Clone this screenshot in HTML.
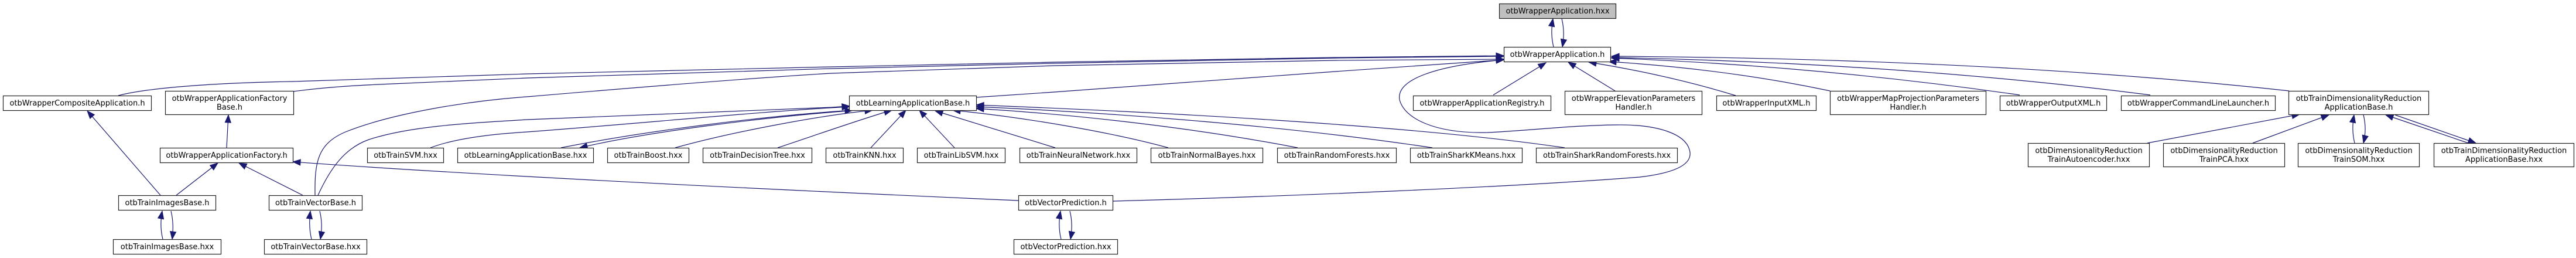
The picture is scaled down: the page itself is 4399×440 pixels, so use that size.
<!DOCTYPE html>
<html>
<head>
<meta charset="utf-8">
<style>
  html, body { margin: 0; padding: 0; background: #ffffff; }
  svg { display: block; }
  .n rect { fill: #ffffff; stroke: #222222; stroke-width: 1.2; }
  .n text { font-family: "DejaVu Sans", "Liberation Sans", sans-serif; font-size: 13px; fill: #000000; text-anchor: middle; }
  .e path { fill: none; stroke: #191970; stroke-width: 1.2; }
</style>
</head>
<body>
<svg width="4399" height="440" viewBox="0 0 4399 440" xmlns="http://www.w3.org/2000/svg">
  <defs>
    <marker id="ah" markerUnits="userSpaceOnUse" markerWidth="15" markerHeight="12" refX="13" refY="5" orient="auto" overflow="visible">
      <path d="M0,0 L13,5 L0,10 Z" fill="#191970" stroke="#191970" stroke-width="1"/>
    </marker>
  </defs>
  <rect x="0" y="0" width="4399" height="440" fill="#ffffff"/>

  <!-- EDGES -->
  <g class="e">
    <!-- WrapperApplication.h <-> .hxx cycle -->
    <path d="M2653,80 C2649,64 2649,48 2652,32" marker-end="url(#ah)"/>
    <path d="M2667,32 C2671,48 2671,64 2668,80" marker-end="url(#ah)"/>

    <!-- left long edges into WrapperApplication.h -->
    <path d="M202,163 C240,153 330,142 500,139 C600,137 700,133 900,126 L1420,114 L1800,106 L2280,98 L2568,95" marker-end="url(#ah)"/>
    <path d="M501,156 C560,148 620,145 670,143 L900,133 L1420,117 L1800,108 L2280,99 L2568,96" marker-end="url(#ah)"/>
    <path d="M538,333 C537,275 543,245 590,225 C670,193 800,172 900,165 C1100,148 1300,132 1420,125 L1800,112 L2280,103 L2568,101" marker-end="url(#ah)"/>
    <path d="M1667,166 L1800,157 L2280,122 L2568,102" marker-end="url(#ah)"/>
    <!-- VectorPrediction.h loop into WrapperApplication.h -->
    <path d="M1900,343 C2200,335 2600,318 2800,302 C2868,294 2888,278 2886,260 C2882,228 2830,212 2760,213 C2680,214 2620,222 2540,226 C2450,228 2398,202 2390,170 C2384,136 2450,112 2568,102" marker-end="url(#ah)"/>

    <!-- right edges into WrapperApplication.h -->
    <path d="M2550,162 L2640,107" marker-end="url(#ah)"/>
    <path d="M2758,155 L2678,106" marker-end="url(#ah)"/>
    <path d="M2964,163 Q2850,128 2713,106" marker-end="url(#ah)"/>
    <path d="M3125,155 Q2950,118 2747,105" marker-end="url(#ah)"/>
    <path d="M3449,162 Q3100,112 2752,99" marker-end="url(#ah)"/>
    <path d="M3672,162 Q3250,108 2752,98" marker-end="url(#ah)"/>
    <path d="M3909,155 Q3400,100 2752,96" marker-end="url(#ah)"/>

    <!-- Factory stuff -->
    <path d="M1739,342 Q900,305 500,276" marker-end="url(#ah)"/>
    <path d="M274,333 L149,189" marker-end="url(#ah)"/>
    <path d="M301,333 L372,278" marker-end="url(#ah)"/>
    <path d="M517,333 L408,278" marker-end="url(#ah)"/>
    <path d="M387,252 L390,196" marker-end="url(#ah)"/>

    <!-- into LearningApplicationBase.h from left -->
    <path d="M543,333 C565,285 590,252 630,238 C700,215 800,210 900,204 L1420,183 L1451,181" marker-end="url(#ah)"/>
    <path d="M735,252 C780,235 850,228 900,225 C1100,210 1300,190 1451,182" marker-end="url(#ah)"/>
    <path d="M958,252 C1100,224 1300,198 1456,188" marker-end="url(#ah)"/>
    <path d="M1462,188 C1300,200 1100,226 990,252" marker-end="url(#ah)"/>
    <path d="M1153,252 C1250,225 1400,197 1490,188" marker-end="url(#ah)"/>
    <path d="M1328,252 C1400,228 1480,200 1523,188" marker-end="url(#ah)"/>
    <path d="M1487,252 L1547,188" marker-end="url(#ah)"/>
    <path d="M1630,252 L1570,188" marker-end="url(#ah)"/>
    <path d="M1802,252 L1597,189" marker-end="url(#ah)"/>
    <path d="M1995,252 C1900,226 1750,200 1627,188" marker-end="url(#ah)"/>
    <path d="M2216,252 C2050,220 1850,196 1667,185" marker-end="url(#ah)"/>
    <path d="M2446,252 C2200,215 1900,192 1667,182" marker-end="url(#ah)"/>
    <path d="M2672,252 C2400,212 1950,190 1667,179" marker-end="url(#ah)"/>

    <!-- Dimensionality reduction -->
    <path d="M3667,244 L3927,195" marker-end="url(#ah)"/>
    <path d="M3847,244 L3977,196" marker-end="url(#ah)"/>
    <path d="M4021,244 C4017,228 4017,212 4020,196" marker-end="url(#ah)"/>
    <path d="M4036,196 C4040,212 4040,228 4036,244" marker-end="url(#ah)"/>
    <path d="M4215,244 L4074,196" marker-end="url(#ah)"/>
    <path d="M4090,196 L4228,244" marker-end="url(#ah)"/>

    <!-- bottom cycles -->
    <path d="M278,408 C274,392 274,376 277,360" marker-end="url(#ah)"/>
    <path d="M292,360 C296,376 296,392 294,408" marker-end="url(#ah)"/>
    <path d="M532,408 C528,392 528,376 530,360" marker-end="url(#ah)"/>
    <path d="M546,360 C550,376 550,392 547,408" marker-end="url(#ah)"/>
    <path d="M1812,408 C1808,392 1808,376 1811,360" marker-end="url(#ah)"/>
    <path d="M1827,360 C1831,376 1831,392 1828,408" marker-end="url(#ah)"/>
  </g>

  <!-- NODES -->
  <g class="n">
    <rect x="2560.5" y="6.5" width="199" height="25" style="fill:#bfbfbf"/>
    <text x="2660" y="23">otbWrapperApplication.hxx</text>

    <rect x="2568.5" y="80.5" width="182" height="25"/>
    <text x="2659.5" y="97">otbWrapperApplication.h</text>

    <rect x="5.5" y="163.5" width="253" height="25"/>
    <text x="132" y="180">otbWrapperCompositeApplication.h</text>

    <rect x="282.5" y="155.5" width="219" height="40"/>
    <text x="392" y="172">otbWrapperApplicationFactory</text>
    <text x="392" y="187">Base.h</text>

    <rect x="1450.5" y="163.5" width="217" height="25"/>
    <text x="1559" y="180">otbLearningApplicationBase.h</text>

    <rect x="2413.5" y="163.5" width="235" height="25"/>
    <text x="2531" y="180">otbWrapperApplicationRegistry.h</text>

    <rect x="2672.5" y="155.5" width="234" height="40"/>
    <text x="2789.5" y="172">otbWrapperElevationParameters</text>
    <text x="2789.5" y="187">Handler.h</text>

    <rect x="2931.5" y="163.5" width="170" height="25"/>
    <text x="3016.5" y="180">otbWrapperInputXML.h</text>

    <rect x="3125.5" y="155.5" width="266" height="40"/>
    <text x="3258.5" y="172">otbWrapperMapProjectionParameters</text>
    <text x="3258.5" y="187">Handler.h</text>

    <rect x="3415.5" y="163.5" width="182" height="25"/>
    <text x="3506.5" y="180">otbWrapperOutputXML.h</text>

    <rect x="3622.5" y="163.5" width="263" height="25"/>
    <text x="3754" y="180">otbWrapperCommandLineLauncher.h</text>

    <rect x="3908.5" y="155.5" width="239" height="40"/>
    <text x="4028" y="172">otbTrainDimensionalityReduction</text>
    <text x="4028" y="187">ApplicationBase.h</text>

    <rect x="273.5" y="252.5" width="227" height="25"/>
    <text x="387" y="269">otbWrapperApplicationFactory.h</text>

    <rect x="627.5" y="252.5" width="130" height="25"/>
    <text x="692.5" y="269">otbTrainSVM.hxx</text>

    <rect x="781.5" y="252.5" width="232" height="25"/>
    <text x="897.5" y="269">otbLearningApplicationBase.hxx</text>

    <rect x="1037.5" y="252.5" width="139" height="25"/>
    <text x="1107" y="269">otbTrainBoost.hxx</text>

    <rect x="1200.5" y="252.5" width="186" height="25"/>
    <text x="1293.5" y="269">otbTrainDecisionTree.hxx</text>

    <rect x="1410.5" y="252.5" width="132" height="25"/>
    <text x="1476.5" y="269">otbTrainKNN.hxx</text>

    <rect x="1566.5" y="252.5" width="150" height="25"/>
    <text x="1641.5" y="269">otbTrainLibSVM.hxx</text>

    <rect x="1741.5" y="252.5" width="200" height="25"/>
    <text x="1841.5" y="269">otbTrainNeuralNetwork.hxx</text>

    <rect x="1965.5" y="252.5" width="191" height="25"/>
    <text x="2061" y="269">otbTrainNormalBayes.hxx</text>

    <rect x="2181.5" y="252.5" width="203" height="25"/>
    <text x="2283" y="269">otbTrainRandomForests.hxx</text>

    <rect x="2408.5" y="252.5" width="191" height="25"/>
    <text x="2504" y="269">otbTrainSharkKMeans.hxx</text>

    <rect x="2623.5" y="252.5" width="241" height="25"/>
    <text x="2744" y="269">otbTrainSharkRandomForests.hxx</text>

    <rect x="3463.5" y="244.5" width="207" height="40"/>
    <text x="3567" y="261">otbDimensionalityReduction</text>
    <text x="3567" y="276">TrainAutoencoder.hxx</text>

    <rect x="3694.5" y="244.5" width="207" height="40"/>
    <text x="3798" y="261">otbDimensionalityReduction</text>
    <text x="3798" y="276">TrainPCA.hxx</text>

    <rect x="3924.5" y="244.5" width="207" height="40"/>
    <text x="4028" y="261">otbDimensionalityReduction</text>
    <text x="4028" y="276">TrainSOM.hxx</text>

    <rect x="4156.5" y="244.5" width="239" height="40"/>
    <text x="4276" y="261">otbTrainDimensionalityReduction</text>
    <text x="4276" y="276">ApplicationBase.hxx</text>

    <rect x="202.5" y="333.5" width="166" height="25"/>
    <text x="285.5" y="350">otbTrainImagesBase.h</text>

    <rect x="459.5" y="333.5" width="159" height="25"/>
    <text x="539" y="350">otbTrainVectorBase.h</text>

    <rect x="1739.5" y="333.5" width="161" height="25"/>
    <text x="1820" y="350">otbVectorPrediction.h</text>

    <rect x="193.5" y="408.5" width="184" height="25"/>
    <text x="285.5" y="425">otbTrainImagesBase.hxx</text>

    <rect x="451.5" y="408.5" width="175" height="25"/>
    <text x="539" y="425">otbTrainVectorBase.hxx</text>

    <rect x="1731.5" y="408.5" width="177" height="25"/>
    <text x="1820" y="425">otbVectorPrediction.hxx</text>
  </g>
</svg>
</body>
</html>
